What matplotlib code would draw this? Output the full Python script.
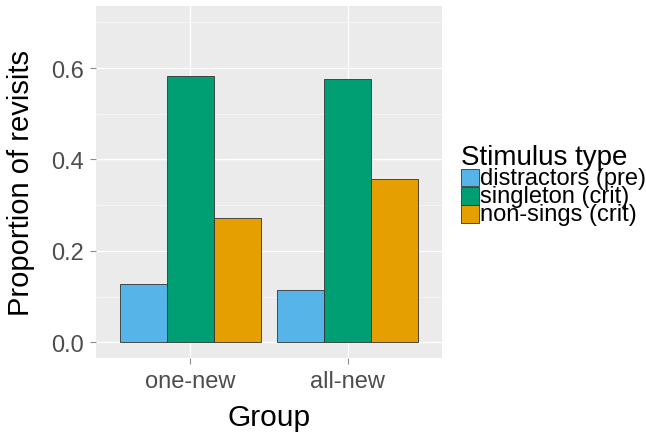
import matplotlib
matplotlib.use("Agg")
import matplotlib.pyplot as plt
import numpy as np
from matplotlib.patches import Rectangle

plt.rcParams['font.family'] = ['Liberation Sans', 'DejaVu Sans']

# data
groups = ["one-new", "all-new"]
stim_types = ["distractors (pre)", "singleton (crit)", "non-sings (crit)"]
distractors = [0.127, 0.114]
singleton = [0.583, 0.576]
non_sings = [0.273, 0.358]
colors = ["#56B4E9", "#009E73", "#E69F00"]

W, H = 646, 435
fig = plt.figure(figsize=(W / 100, H / 100), dpi=100)

# panel position in pixels
left, right, top, bottom = 96, 442, 7.3, 359.3
ax = fig.add_axes([left / W, 1 - bottom / H, (right - left) / W, (bottom - top) / H])
ax.set_facecolor("#EBEBEB")
for s in ax.spines.values():
    s.set_visible(False)

x = np.arange(1, len(groups) + 1)
width = 0.3
series = [distractors, singleton, non_sings]
for i, vals in enumerate(series):
    ax.bar(x + (i - 1) * width, vals, width, color=colors[i],
           edgecolor="#333333", linewidth=0.6, zorder=3)

ax.set_xlim(0.4, 2.6)
ax.set_ylim(-0.035, 0.735)
ax.set_yticks([0.0, 0.2, 0.4, 0.6])
ax.set_yticklabels(["0.0", "0.2", "0.4", "0.6"])
ax.set_yticks([0.1, 0.3, 0.5, 0.7], minor=True)
ax.set_xticks(x)
ax.set_xticklabels(groups)

ax.grid(which="major", color="white", linewidth=1.0, zorder=0)
ax.grid(which="minor", axis="y", color="#F8F8F8", linewidth=0.5, zorder=0)
ax.set_axisbelow(True)

ax.tick_params(axis="both", which="major", labelsize=17, labelcolor="#4D4D4D",
               color="#8C8C8C", length=4, width=0.8, pad=4.5)
ax.tick_params(axis="both", which="minor", length=0)

ax.set_xlabel("Group", fontsize=21.5, labelpad=8)
ax.set_ylabel("Proportion of revisits", fontsize=21, labelpad=12)

# legend drawn by hand in ggplot style
def fx(px):
    return px / W

def fy(py):
    return 1 - py / H

fig.text(fx(461), fy(165), "Stimulus type", fontsize=20, ha="left", va="baseline")
key_top = 169.5
key_h = 18.4
for i, lab in enumerate(stim_types):
    y0 = key_top + i * key_h
    fig.add_artist(Rectangle((fx(461), fy(y0 + key_h - 0.8)), fx(18), (key_h - 0.8) / H,
                             transform=fig.transFigure, facecolor=colors[i],
                             edgecolor="#333333", linewidth=0.6))
    fig.text(fx(480.5), fy(y0 + key_h / 2), lab, fontsize=17, ha="left", va="center")

fig.savefig("out.png", dpi=100)
